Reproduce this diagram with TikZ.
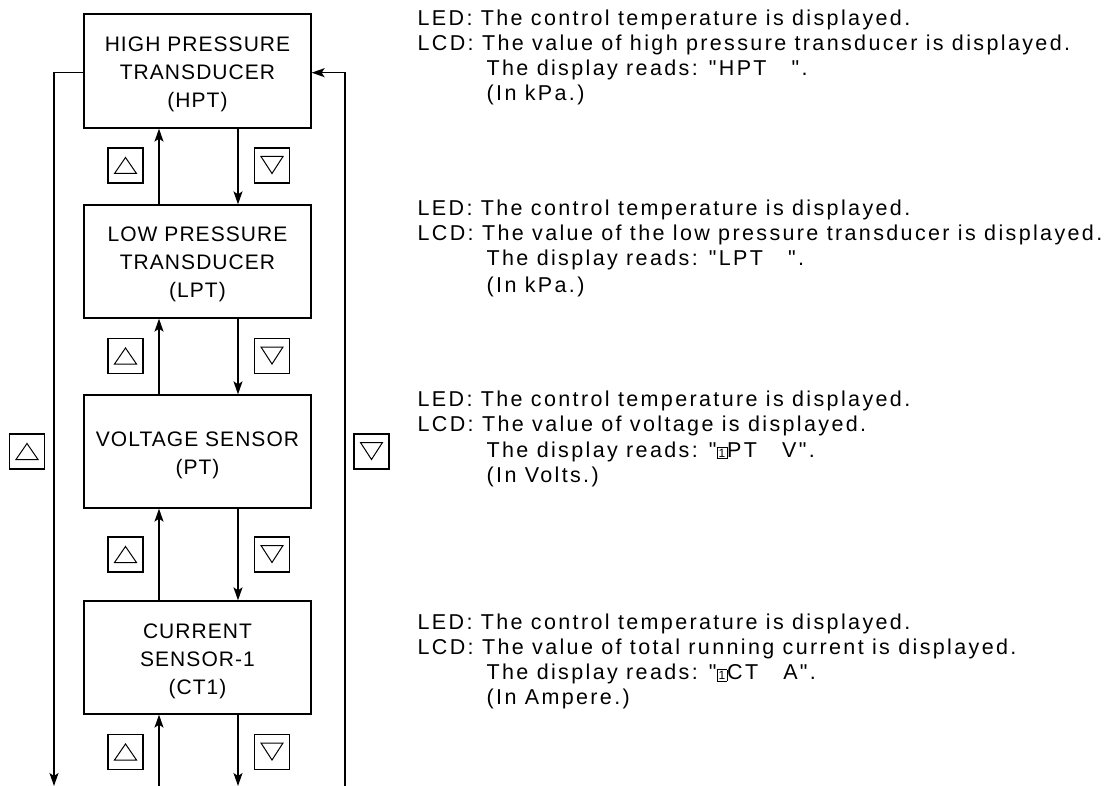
\documentclass[tikz,border=0pt]{standalone}
\usepackage{fontspec}
\setmainfont{Liberation Sans}
\newfontfamily\rfont[LetterSpace=11]{Liberation Sans}
\newfontfamily\bxfont[LetterSpace=5]{Liberation Sans}
\newfontfamily\plainfont{Liberation Sans}
\usetikzlibrary{arrows.meta}
\newcommand\boxone{{\fboxsep=1.3pt\fboxrule=0.7pt\fbox{\plainfont\fontsize{12}{12}\selectfont 1}}}
\begin{document}
\begin{tikzpicture}[x=1pt,y=-1pt,line width=1.3pt,
  box/.style={draw, minimum width=227, minimum height=113, inner sep=0},
  boxtext/.style={align=center, inner sep=0, font=\bxfont\fontsize{21}{28}\selectfont},
  btn/.style={draw, line width=1.2pt, minimum size=35, inner sep=0},
  upbtn/.style={btn, path picture={\draw[line width=1pt]
     ([shift={(-11,8)}]path picture bounding box.center) --
     ([shift={(11,8)}]path picture bounding box.center) --
     ([shift={(0,-8)}]path picture bounding box.center) -- cycle;}},
  dnbtn/.style={btn, path picture={\draw[line width=1pt]
     ([shift={(-11,-9)}]path picture bounding box.center) --
     ([shift={(11,-9)}]path picture bounding box.center) --
     ([shift={(0,8)}]path picture bounding box.center) -- cycle;}},
  arr/.style={-{Stealth[length=13pt,width=9pt,inset=3pt]}},
  rt/.style={anchor=base west, inner sep=0, font=\rfont\fontsize{21.5}{25}\selectfont}]
\useasboundingbox (0,0) rectangle (1116,786);

% boxes
\node[box, minimum height=114] (hpt) at (197.5,71) {};
\node[boxtext] (hptt) at (197.5,74) {HIGH PRESSURE\\TRANSDUCER\\(HPT)};
\node[box] (lpt) at (197.5,261.5) {};
\node[boxtext] (lptt) at (197.5,264.5) {LOW PRESSURE\\TRANSDUCER\\(LPT)};
\node[box] (pt) at (197.5,451.5) {};
\node[boxtext] (ptt) at (197.5,455) {VOLTAGE SENSOR\\(PT)};
\node[box] (ct) at (197.5,657.5) {};
\node[boxtext] (ctt) at (197.5,661) {CURRENT\\SENSOR-1\\(CT1)};

% column coordinates
\coordinate (upx) at (159,0);
\coordinate (dnx) at (238,0);
\coordinate (lb) at (54,786);
\coordinate (rb) at (345,786);
\coordinate (ub) at (159,786);
\coordinate (db) at (238,786);

% vertical arrows between boxes
\draw[arr] (lpt.north -| upx) -- (hpt.south -| upx);
\draw[arr] (hpt.south -| dnx) -- (lpt.north -| dnx);
\draw[arr] (pt.north -| upx) -- (lpt.south -| upx);
\draw[arr] (lpt.south -| dnx) -- (pt.north -| dnx);
\draw[arr] (ct.north -| upx) -- (pt.south -| upx);
\draw[arr] (pt.south -| dnx) -- (ct.north -| dnx);
\draw[arr] (ub) -- (ct.south -| upx);
\draw[arr] (ct.south -| dnx) -- (db);

% outer loops
\draw[arr] ([yshift=-1.7pt]hpt.west) -| (lb);
\draw[arr] (rb) |- ([yshift=-1.7pt]hpt.east);

% buttons
\node[upbtn] (u1) at (125.5,165.5) {};
\node[dnbtn] (d1) at (272,165.5) {};
\node[upbtn] (u2) at (125.5,356) {};
\node[dnbtn] (d2) at (272,356) {};
\node[upbtn] (u3) at (125.5,554.5) {};
\node[dnbtn] (d3) at (272,554.5) {};
\node[upbtn] (u4) at (125.5,752) {};
\node[dnbtn] (d4) at (272,752) {};
\node[upbtn] (ul) at (27,451.5) {};
\node[dnbtn] (dr) at (371.5,451.5) {};

% descriptions
\node[rt] (a1) at (417,25.5) {LED: The control temperature is displayed.};
\node[rt] (a2) at (417,50.5) {LCD: The value of high pressure transducer is displayed.};
\node[rt] (a3) at (486,75.5) {The display reads: "HPT\ \ \ ".};
\node[rt] (a4) at (486,100.5) {(In kPa.)};

\node[rt] (b1) at (417,216) {LED: The control temperature is displayed.};
\node[rt] (b2) at (417,241) {LCD: The value of the low pressure transducer is displayed.};
\node[rt] (b3) at (486,266) {The display reads: "LPT\ \ \ ".};
\node[rt] (b4) at (486,292) {(In kPa.)};

\node[rt] (c1) at (417,406.5) {LED: The control temperature is displayed.};
\node[rt] (c2) at (417,431.5) {LCD: The value of voltage is displayed.};
\node[rt] (c3) at (486,457) {The display reads: "\boxone PT\ \ \ V".};
\node[rt] (c4) at (486,482.5) {(In Volts.)};

\node[rt] (e1) at (417,629.5) {LED: The control temperature is displayed.};
\node[rt] (e2) at (417,654.5) {LCD: The value of total running current is displayed.};
\node[rt] (e3) at (486,679.5) {The display reads: "\boxone CT\ \ \ A".};
\node[rt] (e4) at (486,704.5) {(In Ampere.)};
\end{tikzpicture}
\end{document}
